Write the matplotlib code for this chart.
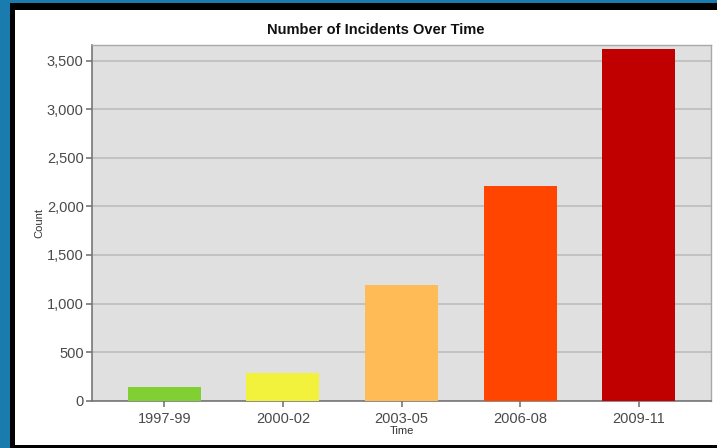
import matplotlib.pyplot as plt
from matplotlib.patches import Rectangle
from matplotlib.ticker import FuncFormatter

periods = ['1997-99', '2000-02', '2003-05', '2006-08', '2009-11']
counts = [145, 290, 1190, 2210, 3620]
colors = ['#80d034', '#f2f23c', '#ffbb55', '#ff4500', '#c00000']

plt.rcParams['font.family'] = ['Liberation Sans', 'DejaVu Sans']

fig = plt.figure(figsize=(7.17, 4.48), dpi=100)
fig.patch.set_facecolor('#1a7cae')

# black frame and white panel behind the chart
fig.add_artist(Rectangle((10 / 717, 0), 1, 445 / 448, transform=fig.transFigure,
                         facecolor='black', edgecolor='none', zorder=-10))
fig.add_artist(Rectangle((15 / 717, 3 / 448), 1, 435 / 448, transform=fig.transFigure,
                         facecolor='white', edgecolor='none', zorder=-9))

ax = fig.add_axes([92 / 717, 47.3 / 448, 619 / 717, 355.7 / 448])
ax.set_facecolor('#e0e0e0')

x = range(len(periods))
ax.bar(x, counts, width=0.615, color=colors, zorder=3)

ax.set_xlim(-0.61, 4.61)
ax.set_ylim(0, 3660)
ax.set_yticks(range(0, 3501, 500))
ax.yaxis.set_major_formatter(FuncFormatter(lambda v, p: f'{int(v):,}'))
ax.set_xticks(list(x))
ax.set_xticklabels(periods)

ax.grid(axis='y', color='#c2c2c2', linewidth=1.4, zorder=1)
ax.set_axisbelow(True)

for side in ['left', 'bottom']:
    ax.spines[side].set_color('#777777')
    ax.spines[side].set_linewidth(1.2)
for side in ['top', 'right']:
    ax.spines[side].set_color('#a8a8a8')
    ax.spines[side].set_linewidth(1.0)

ax.tick_params(axis='both', colors='#777777', labelcolor='#4a4a4a',
               labelsize=10.5, length=4, width=1.2, pad=2)
ax.tick_params(axis='x', pad=4)

# title is centred on the whole chart image, not the plot area
fig.text(376 / 717, (448 - 30) / 448, 'Number of Incidents Over Time', fontsize=10.5,
         fontweight='bold', color='#111111', ha='center', va='center')
ax.set_ylabel('Count', fontsize=8, color='#333333', labelpad=2)
ax.set_xlabel('Time', fontsize=8, color='#333333', labelpad=0)

fig.savefig('out.png', dpi=100, facecolor=fig.get_facecolor())
